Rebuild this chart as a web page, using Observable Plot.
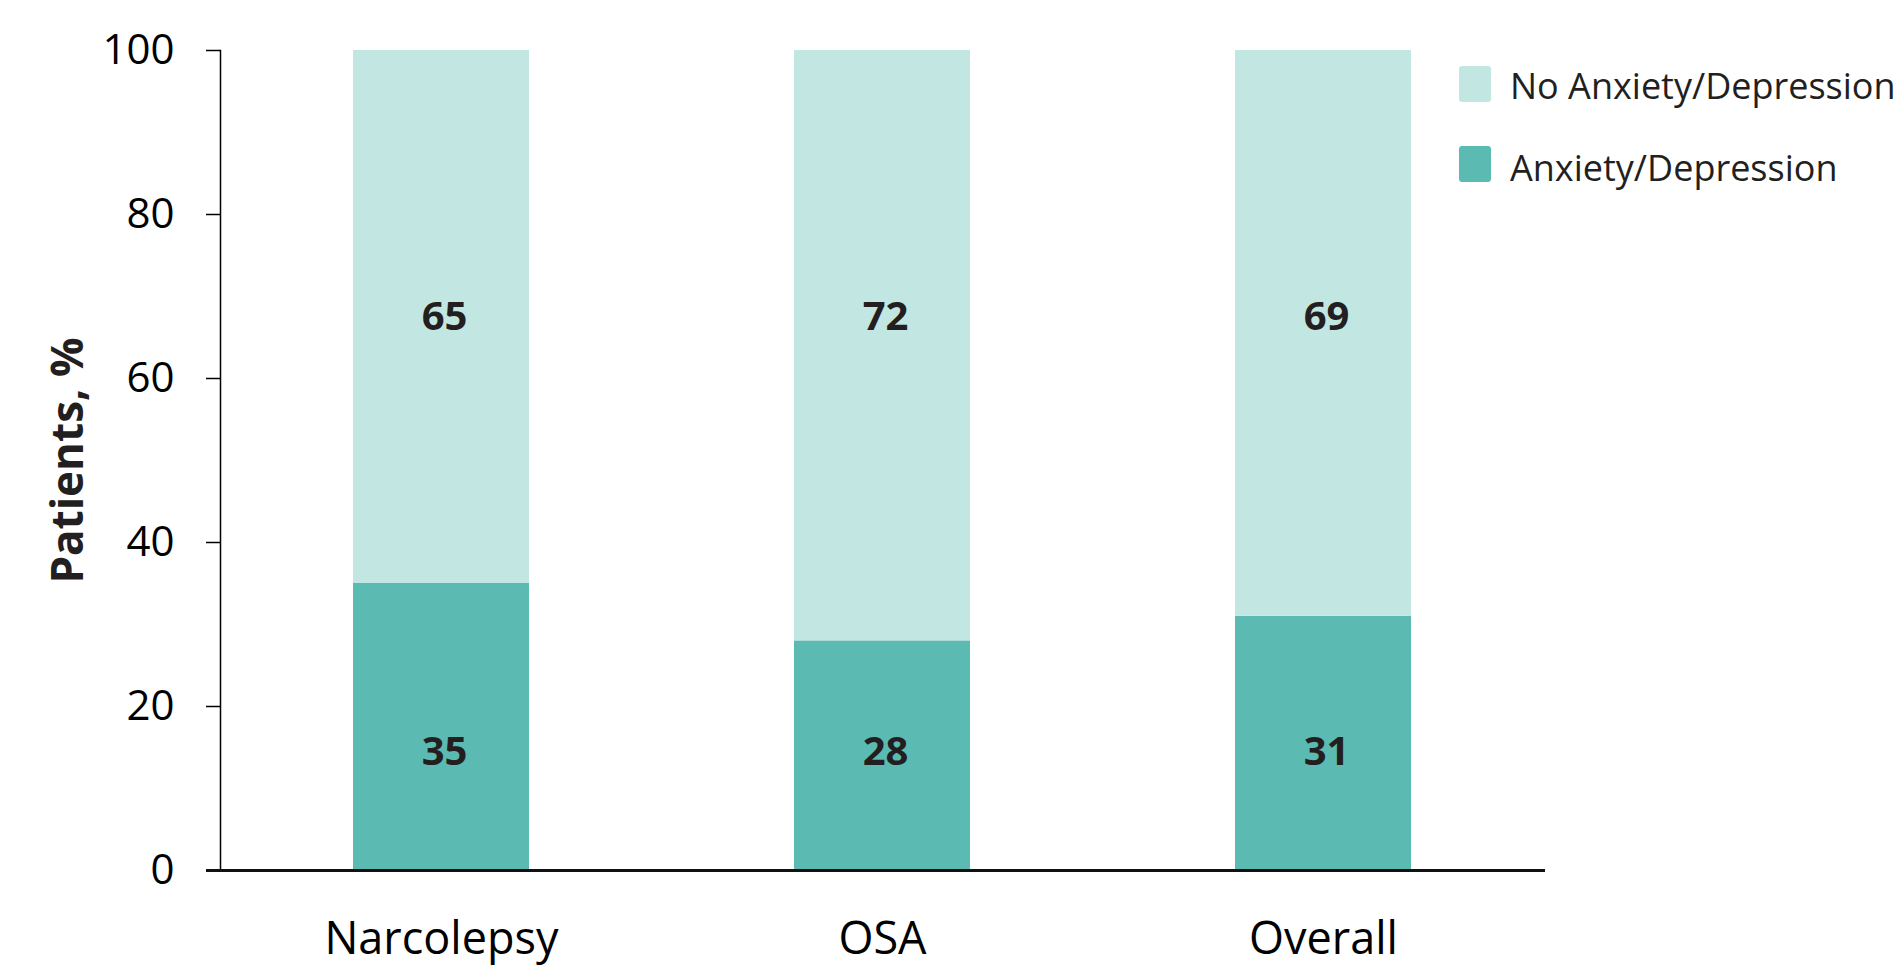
<!DOCTYPE html>
<html>
<head>
<meta charset="utf-8">
<script src="https://cdn.jsdelivr.net/npm/d3@7"></script>
<script src="https://cdn.jsdelivr.net/npm/@observablehq/plot@0.6"></script>
<style>
  html, body { margin: 0; padding: 0; background: #fff; overflow: hidden; }
  #wrap { position: relative; width: 1902px; height: 967px; overflow: hidden; }
  #legend { position: absolute; left: 0; top: 0; font-family: "Open Sans", sans-serif; color: #231f20; white-space: nowrap; }
  .sw { position: absolute; width: 32px; height: 36px; border-radius: 3px; left: 1459px; }
  .lt { position: absolute; left: 1510px; font-size: 36px; line-height: 36px; }
</style>
</head>
<body>
<div id="wrap"></div>
<script>
// ---- data ----
const groups = ["Narcolepsy", "OSA", "Overall"];
const seriesNames = ["Anxiety/Depression", "No Anxiety/Depression"];
const anxiety = [35, 28, 31];
const noAnxiety = [65, 72, 69];
const yTicks = [0, 20, 40, 60, 80, 100];
const yLabel = "Patients, %";

// ---- styling constants ----
const colors = ["#5bbab2", "#c2e7e3"];
const labelPos = { "Anxiety/Depression": 14.4, "No Anxiety/Depression": 67.5 };

const table = [];
groups.forEach((g, i) => {
  table.push({ group: g, series: seriesNames[0], value: anxiety[i] });
  table.push({ group: g, series: seriesNames[1], value: noAnxiety[i] });
});

const chart = Plot.plot({
  width: 1902,
  height: 967,
  marginLeft: 220,
  marginRight: 357,
  marginTop: 50,
  marginBottom: 97,
  style: { fontFamily: "Open Sans", background: "#fff", color: "#000" },
  x: { domain: groups, paddingInner: 0.6, paddingOuter: 0.3, label: null },
  y: { domain: [0, 100], label: null },
  color: { domain: seriesNames, range: colors },
  marks: [
    Plot.barY(table, { x: "group", y: "value", fill: "series" }),
    Plot.text(table, {
      x: "group",
      y: d => labelPos[d.series],
      text: d => String(d.value),
      fontSize: 40,
      fontWeight: "bold",
      fill: "#231f20",
      dx: 3
    }),
    Plot.axisY({ ticks: yTicks, tickSize: 14, tickPadding: 32, fontSize: 42, stroke: "#000", strokeWidth: 1.5, label: null, tickFormat: d => String(d) }),
    Plot.frame({ anchor: "left", stroke: "#000", strokeWidth: 1.5 }),
    Plot.axisX({ tickSize: 0, tickPadding: 52, fontSize: 45, label: null }),
    Plot.ruleY([0], { stroke: "#111", strokeWidth: 3, insetLeft: -14 }),
    Plot.text([yLabel], {
      frameAnchor: "left",
      rotate: -90,
      dx: -138,
      textAnchor: "middle",
      lineAnchor: "bottom",
      fontSize: 44,
      fontWeight: "bold",
      fill: "#231f20"
    })
  ]
});

const wrap = document.getElementById("wrap");
wrap.appendChild(chart);

// legend (HTML overlay)
const legend = document.createElement("div");
legend.id = "legend";
const legendItems = [
  { name: seriesNames[1], color: colors[1], swTop: 66, txtTop: 68 },
  { name: seriesNames[0], color: colors[0], swTop: 146, txtTop: 150 }
];
legendItems.forEach(it => {
  const sw = document.createElement("div");
  sw.className = "sw";
  sw.style.top = it.swTop + "px";
  sw.style.background = it.color;
  legend.appendChild(sw);
  const t = document.createElement("div");
  t.className = "lt";
  t.style.top = it.txtTop + "px";
  t.textContent = it.name;
  legend.appendChild(t);
});
wrap.appendChild(legend);
</script>
</body>
</html>
